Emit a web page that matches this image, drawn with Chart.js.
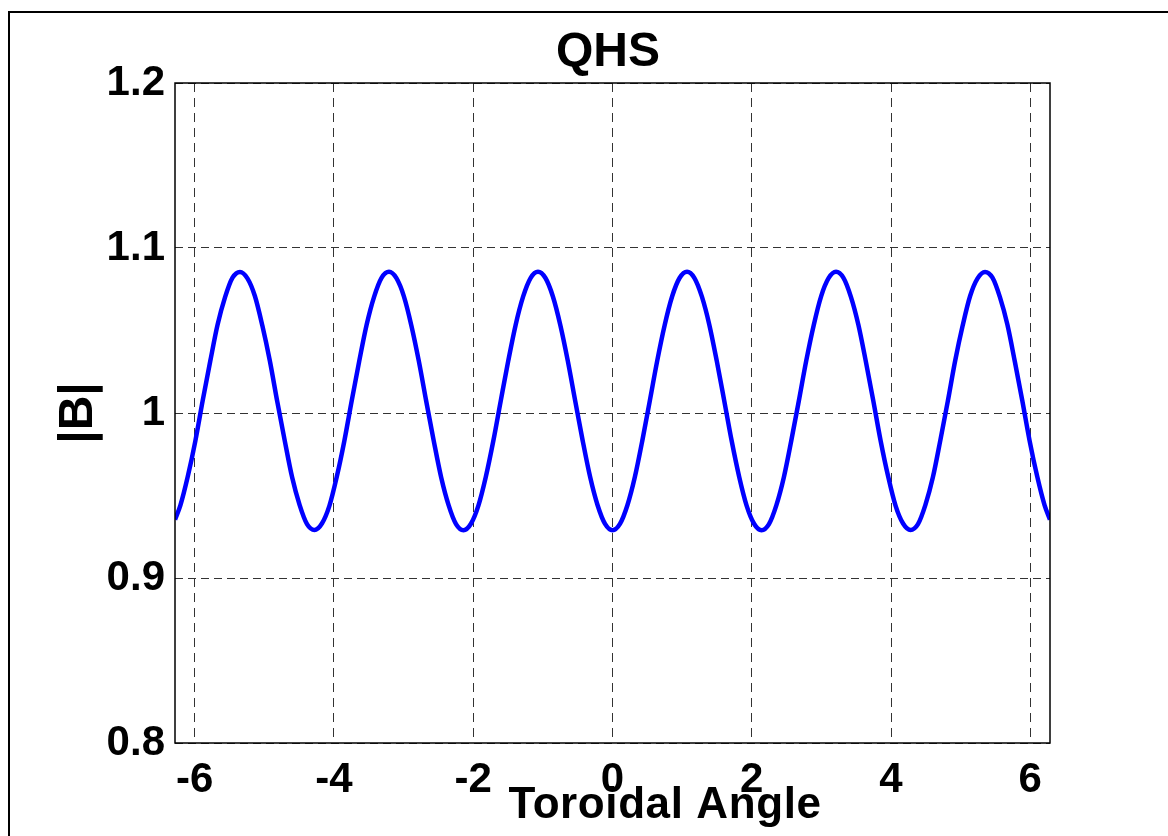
<!DOCTYPE html>
<html>
<head>
<meta charset="utf-8">
<title>QHS</title>
<script src="https://cdn.jsdelivr.net/npm/chart.js@4/dist/chart.umd.min.js"></script>
<style>
  html, body { margin: 0; padding: 0; background: #fff; }
  canvas { display: block; }
</style>
</head>
<body>
<canvas id="chart" width="1168" height="836"></canvas>
<script>
// toroidal angle samples (rad)
const angle = [
  -6.283, -6.206, -6.099, -5.992, -5.885, -5.778, -5.671, -5.564, -5.457, -5.350,
  -5.243, -5.136, -5.029, -4.922, -4.815, -4.708, -4.601, -4.494, -4.387, -4.280,
  -4.173, -4.066, -3.959, -3.852, -3.745, -3.638, -3.531, -3.424, -3.317, -3.210,
  -3.103, -2.996, -2.889, -2.782, -2.675, -2.568, -2.461, -2.354, -2.247, -2.140,
  -2.033, -1.926, -1.819, -1.712, -1.605, -1.498, -1.391, -1.284, -1.177, -1.070,
  -0.963, -0.856, -0.749, -0.642, -0.535, -0.428, -0.321, -0.214, -0.107, 0.000,
  0.107, 0.214, 0.321, 0.428, 0.535, 0.642, 0.749, 0.856, 0.963, 1.070,
  1.177, 1.284, 1.391, 1.498, 1.605, 1.712, 1.819, 1.926, 2.033, 2.140,
  2.247, 2.354, 2.461, 2.568, 2.675, 2.782, 2.889, 2.996, 3.103, 3.210,
  3.317, 3.424, 3.531, 3.638, 3.745, 3.852, 3.959, 4.066, 4.173, 4.280,
  4.387, 4.494, 4.601, 4.708, 4.815, 4.922, 5.029, 5.136, 5.243, 5.350,
  5.457, 5.564, 5.671, 5.778, 5.885, 5.992, 6.099, 6.206, 6.283
];

// |B| along the field line
const bField = [
  0.9354, 0.9440, 0.9616, 0.9828, 1.0076, 1.0312, 1.0536, 1.0702, 1.0820, 1.0855,
  1.0816, 1.0709, 1.0530, 1.0318, 1.0070, 0.9834, 0.9610, 0.9443, 0.9326, 0.9291,
  0.9330, 0.9437, 0.9615, 0.9829, 1.0075, 1.0313, 1.0535, 1.0704, 1.0819, 1.0856,
  1.0817, 1.0707, 1.0531, 1.0316, 1.0071, 0.9833, 0.9611, 0.9442, 0.9327, 0.9290,
  0.9329, 0.9439, 0.9614, 0.9830, 1.0074, 1.0314, 1.0534, 1.0705, 1.0818, 1.0856,
  1.0818, 1.0706, 1.0532, 1.0316, 1.0072, 0.9832, 0.9612, 0.9441, 0.9328, 0.9290,
  0.9328, 0.9441, 0.9612, 0.9832, 1.0072, 1.0316, 1.0532, 1.0706, 1.0818, 1.0856,
  1.0818, 1.0705, 1.0534, 1.0314, 1.0074, 0.9830, 0.9614, 0.9439, 0.9329, 0.9290,
  0.9327, 0.9442, 0.9611, 0.9833, 1.0071, 1.0316, 1.0531, 1.0707, 1.0817, 1.0856,
  1.0819, 1.0704, 1.0535, 1.0313, 1.0075, 0.9829, 0.9615, 0.9437, 0.9330, 0.9291,
  0.9326, 0.9443, 0.9610, 0.9834, 1.0070, 1.0318, 1.0530, 1.0709, 1.0816, 1.0855,
  1.0820, 1.0702, 1.0536, 1.0312, 1.0076, 0.9828, 0.9616, 0.9440, 0.9354
];

const xTicks = [-6, -4, -2, 0, 2, 4, 6];
const xTickLabels = ['-6', '-4', '-2', '0', '2', '4', '6'];
const yTicks = [0.8, 0.9, 1.0, 1.1, 1.2];
const yTickLabels = ['0.8', '0.9', '1', '1.1', '1.2'];

const FONT = 'Liberation Sans, Arial, Helvetica, sans-serif';

const labelFor = (ticks, labels) => (v) => {
  const i = ticks.findIndex(t => Math.abs(t - v) < 1e-6);
  return i < 0 ? '' : labels[i];
};

// outer figure frame, axes box and the titles
const decorations = {
  id: 'decorations',
  beforeDraw(chart) {
    const ctx = chart.ctx;
    ctx.save();
    ctx.fillStyle = '#fff';
    ctx.fillRect(0, 0, chart.width, chart.height);
    ctx.fillStyle = '#000';
    ctx.fillRect(8, 11, 2, chart.height);
    ctx.fillRect(8, 11, chart.width, 2);
    ctx.restore();
  },
  afterDraw(chart) {
    const ctx = chart.ctx;
    const a = chart.chartArea;
    ctx.save();
    ctx.strokeStyle = '#000';
    ctx.lineWidth = 1.5;
    ctx.setLineDash([]);
    ctx.strokeRect(a.left, a.top, a.right - a.left, a.bottom - a.top);

    ctx.fillStyle = '#000';
    ctx.textAlign = 'center';
    ctx.textBaseline = 'middle';
    ctx.font = 'bold 48px ' + FONT;
    ctx.fillText('QHS', 608, 53);

    ctx.font = 'bold 44px ' + FONT;
    ctx.letterSpacing = '0.6px';
    ctx.fillText('Toroidal Angle', 665, 806);
    ctx.letterSpacing = '0px';

    ctx.font = 'bold 48px ' + FONT;
    ctx.translate(79, 413);
    ctx.rotate(-Math.PI / 2);
    ctx.fillText('|B|', 0, 0);
    ctx.restore();
  }
};

const gridStyle = {
  color: '#333',
  lineWidth: 1,
  drawTicks: false
};

new Chart(document.getElementById('chart'), {
  type: 'line',
  data: {
    datasets: [{
      data: angle.map((x, i) => ({ x: x, y: bField[i] })),
      borderColor: '#0000ff',
      borderWidth: 4.5,
      pointRadius: 0,
      cubicInterpolationMode: 'monotone',
      fill: false
    }]
  },
  options: {
    responsive: false,
    animation: false,
    layout: { padding: { top: 83, right: 118, left: 0, bottom: 0 } },
    plugins: {
      legend: { display: false },
      tooltip: { enabled: false }
    },
    scales: {
      x: {
        type: 'linear',
        min: -2 * Math.PI,
        max: 2 * Math.PI,
        afterBuildTicks: (s) => { s.ticks = xTicks.map(v => ({ value: v })); },
        afterFit: (s) => { s.height = 93; },
        grid: gridStyle,
        border: { display: false, dash: [9, 6] },
        ticks: {
          color: '#000',
          padding: 12,
          maxRotation: 0,
          autoSkip: false,
          font: { family: FONT, size: 42, weight: 'bold' },
          callback: labelFor(xTicks, xTickLabels)
        }
      },
      y: {
        min: 0.8,
        max: 1.2,
        afterBuildTicks: (s) => { s.ticks = yTicks.map(v => ({ value: v })); },
        afterFit: (s) => { s.width = 175; },
        grid: gridStyle,
        border: { display: false, dash: [8, 5] },
        ticks: {
          color: '#000',
          padding: 10,
          autoSkip: false,
          font: { family: FONT, size: 42, weight: 'bold' },
          callback: labelFor(yTicks, yTickLabels)
        }
      }
    }
  },
  plugins: [decorations]
});
</script>
</body>
</html>
